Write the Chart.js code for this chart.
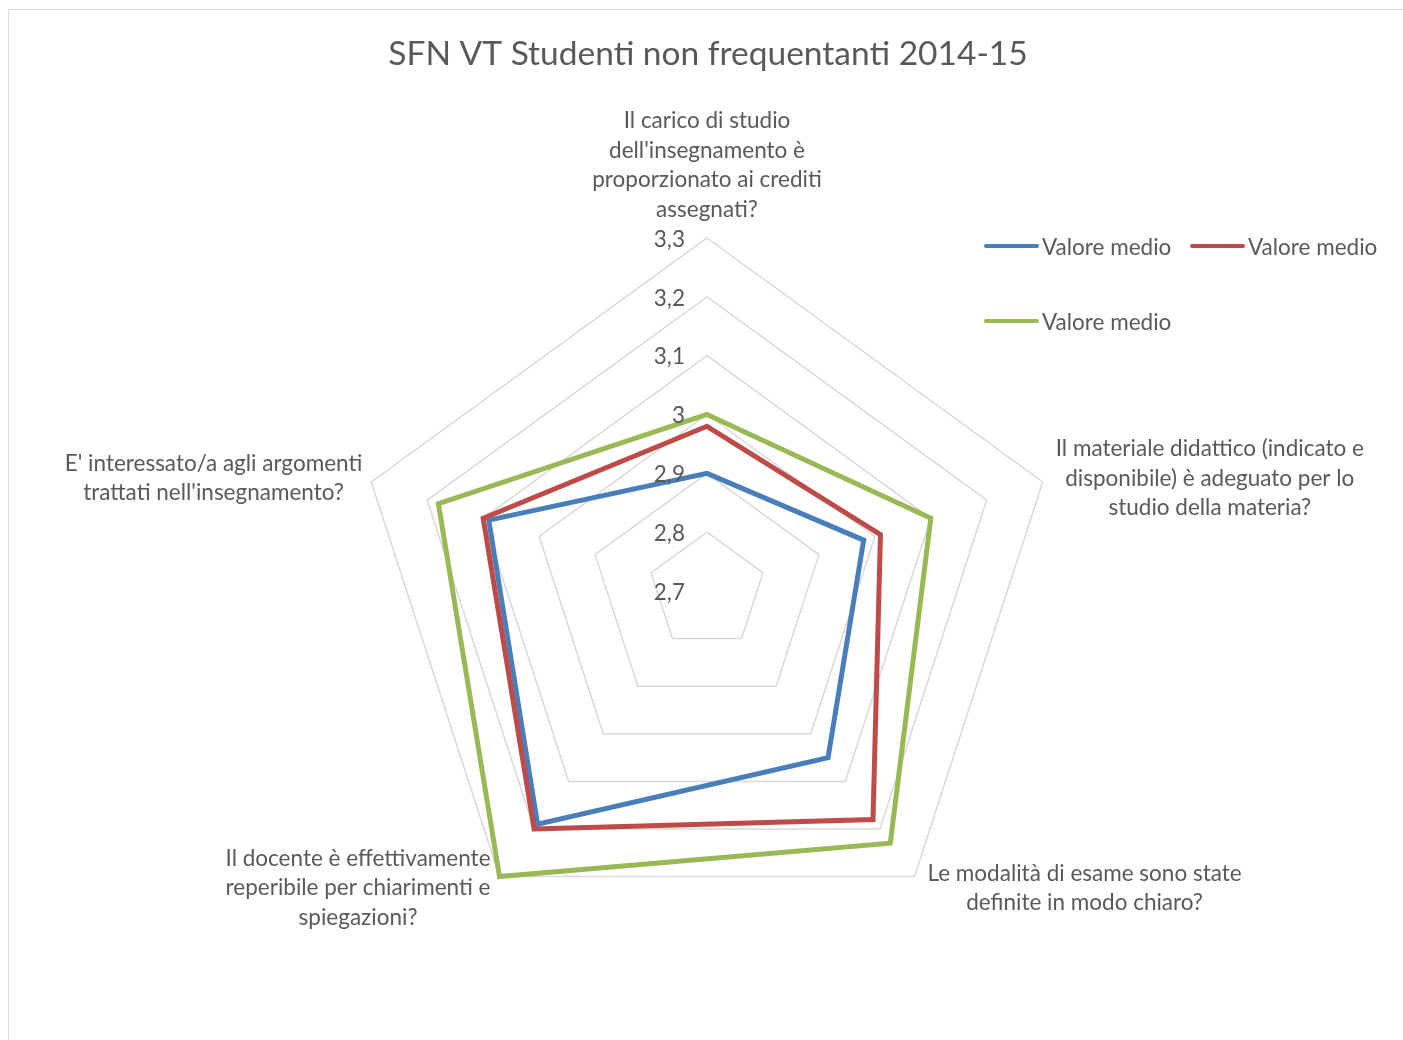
<!DOCTYPE html>
<html>
<head>
<meta charset="utf-8">
<title>SFN VT Studenti non frequentanti 2014-15</title>
<script src="https://cdn.jsdelivr.net/npm/chart.js@4.4.0/dist/chart.umd.min.js"></script>
<style>
  html, body { margin: 0; padding: 0; background: #fff; overflow: hidden; }
  .frame { position: absolute; left: 8px; top: 9px; width: 1398px; height: 1040px; border: 1px solid #d9d9d9; }
  canvas { display: block; }
</style>
</head>
<body>
<div class="frame"><canvas id="radar" width="1398" height="1040"></canvas></div>
<script>
const categories = [
  ["Il carico di studio", "dell'insegnamento è", "proporzionato ai crediti", "assegnati?"],
  ["Il materiale didattico (indicato e", "disponibile) è adeguato per lo", "studio della materia?"],
  ["Le modalità di esame sono state", "definite in modo chiaro?"],
  ["Il docente è effettivamente", "reperibile per chiarimenti e", "spiegazioni?"],
  ["E' interessato/a agli argomenti", "trattati nell'insegnamento?"]
];
const seriesNames = ["Valore medio", "Valore medio", "Valore medio"];
const blueValues = [2.90, 2.98, 3.05, 3.19, 3.09];
const redValues = [2.98, 3.01, 3.18, 3.20, 3.10];
const greenValues = [3.00, 3.10, 3.23, 3.30, 3.18];
const tickLabels = ["2,7", "2,8", "2,9", "3", "3,1", "3,2", "3,3"];

const textColor = "#595959";
const fontFamily = "Lato, 'Liberation Sans', sans-serif";
const labelFont = "22.5px " + fontFamily;
const textNudge = 1.5; // Lato's middle sits a bit high compared with Calibri

// Excel-like labels, ticks and legend drawn from the scale geometry
const excelDecor = {
  id: "excelDecor",
  afterDatasetsDraw(chart) {
    const ctx = chart.ctx;
    const scale = chart.scales.r;
    ctx.save();
    ctx.font = labelFont;
    ctx.fillStyle = textColor;
    ctx.textBaseline = "middle";

    // tick labels, right aligned left of the vertical axis
    ctx.textAlign = "right";
    scale.ticks.forEach((t, i) => {
      const y = scale.yCenter - scale.getDistanceFromCenterForValue(t.value);
      ctx.fillText(tickLabels[i], scale.xCenter - 22, y + textNudge);
    });

    // category labels as centred blocks next to each vertex
    const lineH = 29.6;
    ctx.textAlign = "center";
    chart.data.labels.forEach((lines, i) => {
      const p = scale.getPointPosition(i, scale.drawingArea);
      const a = scale.getIndexAngle(i);
      const s = Math.sin(a), c = Math.cos(a);
      const w = Math.max(...lines.map(l => ctx.measureText(l).width));
      let cx, firstY;
      if (Math.abs(s) < 0.1) {
        cx = p.x;
        firstY = p.y - 30 - (lines.length - 1) * lineH;
      } else {
        cx = s > 0 ? p.x + 13 + w / 2 : p.x - 9 - w / 2;
        const cy = c > 0 ? p.y - 5 : p.y + 10;
        firstY = cy - (lines.length - 1) * lineH / 2;
      }
      lines.forEach((l, k) => ctx.fillText(l, cx, firstY + k * lineH + textNudge));
    });

    // legend: two per row
    ctx.textAlign = "left";
    ctx.lineCap = "round";
    ctx.lineWidth = 4;
    chart.data.datasets.forEach((ds, i) => {
      const x = 977 + (i % 2) * 206;
      const y = 236 + Math.floor(i / 2) * 75;
      ctx.strokeStyle = ds.borderColor;
      ctx.beginPath();
      ctx.moveTo(x, y);
      ctx.lineTo(x + 51, y);
      ctx.stroke();
      ctx.fillText(ds.label, x + 56, y + textNudge);
    });
    ctx.restore();
  }
};

new Chart(document.getElementById("radar"), {
  type: "radar",
  data: {
    labels: categories,
    datasets: [
      { label: seriesNames[0], data: blueValues, borderColor: "#4a7ebb", order: 3 },
      { label: seriesNames[1], data: redValues, borderColor: "#be4b48", order: 2 },
      { label: seriesNames[2], data: greenValues, borderColor: "#98b954", order: 1 }
    ]
  },
  options: {
    responsive: false,
    animation: false,
    plugins: {
      legend: { display: false },
      tooltip: { enabled: false },
      title: {
        display: true,
        text: "SFN VT Studenti non frequentanti 2014-15",
        color: textColor,
        font: { family: fontFamily, size: 33.5, weight: "normal" },
        padding: { top: 24, bottom: 10 }
      }
    },
    elements: {
      line: { borderWidth: 5, tension: 0, fill: false, borderJoinStyle: "miter" },
      point: { radius: 0, hoverRadius: 0 }
    },
    scales: {
      r: {
        min: 2.7,
        max: 3.3,
        ticks: { stepSize: 0.1, display: false },
        grid: { color: "#d9d9d9", lineWidth: 1.5 },
        angleLines: { display: false },
        pointLabels: { display: false },
        afterFit(scale) {
          scale.xCenter = 698;
          scale.yCenter = 581;
          scale.drawingArea = 353;
        }
      }
    }
  },
  plugins: [excelDecor]
});
</script>
</body>
</html>
